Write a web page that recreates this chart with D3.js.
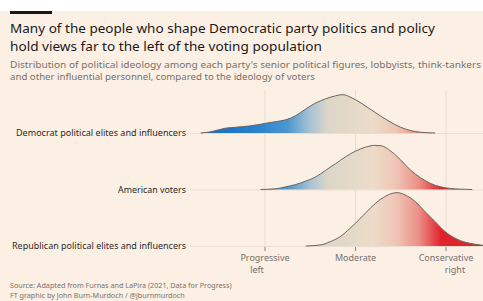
<!DOCTYPE html>
<html>
<head>
<meta charset="utf-8">
<script src="https://cdn.jsdelivr.net/npm/d3@7"></script>
<style>
  body { margin: 0; background: #fff; }
  svg { display: block; font-family: "Noto Sans", "Open Sans", sans-serif; }
</style>
</head>
<body>
<script>
// rows, top to bottom
var rows = ['Democrat political elites and influencers', 'American voters', 'Republican political elites and influencers'];

// ideology score (-1 progressive, 0 moderate, 1 conservative) and density
var demIdeology = [-1.71, -1.6, -1.44, -1.33, -1.16, -1.0, -0.88, -0.77, -0.66, -0.55, -0.44, -0.33, -0.22, -0.14, -0.06, 0.06, 0.17, 0.28, 0.39, 0.5, 0.61, 0.72, 0.88];
var demDensity = [0, 0.02, 0.08, 0.095, 0.12, 0.16, 0.19, 0.22, 0.29, 0.4, 0.5, 0.57, 0.62, 0.64, 0.6, 0.5, 0.39, 0.28, 0.18, 0.095, 0.04, 0.012, 0];

var voterIdeology = [-1.05, -0.88, -0.77, -0.66, -0.55, -0.44, -0.33, -0.22, -0.11, 0, 0.11, 0.21, 0.28, 0.39, 0.5, 0.61, 0.72, 0.83, 0.94, 1.05, 1.16, 1.29];
var voterDensity = [0, 0.012, 0.045, 0.083, 0.14, 0.21, 0.32, 0.43, 0.545, 0.64, 0.705, 0.735, 0.73, 0.64, 0.49, 0.32, 0.195, 0.1, 0.045, 0.017, 0.006, 0];

var repIdeology = [-0.55, -0.39, -0.28, -0.17, -0.06, 0.06, 0.17, 0.28, 0.39, 0.46, 0.55, 0.66, 0.77, 0.88, 0.99, 1.1, 1.22, 1.33, 1.41];
var repDensity = [0, 0.017, 0.072, 0.155, 0.295, 0.47, 0.64, 0.78, 0.87, 0.89, 0.85, 0.74, 0.57, 0.405, 0.24, 0.13, 0.06, 0.028, 0.01];

var tickValues = [-1, 0, 1];
var tickLabels = [['Progressive', 'left'], ['Moderate'], ['Conservative', 'right']];

var series = [
  { name: rows[0], x: demIdeology, y: demDensity, w: 170 },
  { name: rows[1], x: voterIdeology, y: voterDensity, w: 68 },
  { name: rows[2], x: repIdeology, y: repDensity, w: 174 }
];

var width = 483, height = 301;
var bg = '#fcf0e5';

var svg = d3.select('body').append('svg')
  .attr('width', width)
  .attr('height', height);

// white strip above, FT pink panel below
svg.append('rect').attr('width', width).attr('height', height).attr('fill', '#fff');
svg.append('rect').attr('y', 11).attr('width', width).attr('height', height - 11).attr('fill', bg);
svg.append('rect').attr('x', 10).attr('y', 11).attr('width', 42).attr('height', 3).attr('fill', '#1a1817');

// scales
var xScale = d3.scaleLinear().domain([-1, 1]).range([265, 446]);
var yRow = d3.scalePoint().domain(rows).range([133, 246]);
var yScale = d3.scaleLinear().domain([0, 1]).range([0, 60]);

// stretch a text to the width it takes in the original
function fitText(sel, w) {
  var len = sel.node().getComputedTextLength();
  if (len > 0) sel.attr('textLength', w).attr('lengthAdjust', 'spacingAndGlyphs');
}

var t1 = svg.append('text').attr('x', 10).attr('y', 33).attr('font-size', 13.2).attr('fill', '#1a1817')
  .text('Many of the people who shape Democratic party politics and policy');
fitText(t1, 425);
var t2 = svg.append('text').attr('x', 10).attr('y', 51).attr('font-size', 13.2).attr('fill', '#1a1817')
  .text('hold views far to the left of the voting population');
fitText(t2, 312);
var s1 = svg.append('text').attr('x', 10).attr('y', 67.5).attr('font-size', 9.2).attr('fill', '#77706b')
  .text("Distribution of political ideology among each party's senior political figures, lobbyists, think-tankers");
fitText(s1, 471);
var s2 = svg.append('text').attr('x', 10).attr('y', 80).attr('font-size', 9.2).attr('fill', '#77706b')
  .text('and other influential personnel, compared to the ideology of voters');
fitText(s2, 305);

// grid
var grid = svg.append('g');
grid.selectAll('line.v').data(tickValues).enter().append('line')
  .attr('class', 'v')
  .attr('x1', function(d) { return xScale(d); })
  .attr('x2', function(d) { return xScale(d); })
  .attr('y1', 90).attr('y2', 247)
  .attr('stroke', '#e9ddd2').attr('stroke-width', 1);
grid.selectAll('line.h').data(rows).enter().append('line')
  .attr('class', 'h')
  .attr('x1', 190).attr('x2', width)
  .attr('y1', function(d) { return yRow(d) + 0.5; })
  .attr('y2', function(d) { return yRow(d) + 0.5; })
  .attr('stroke', '#e9ddd2').attr('stroke-width', 1);

// colour gradient running left to right along the ideology axis
var grad = svg.append('defs').append('linearGradient')
  .attr('id', 'ideo')
  .attr('gradientUnits', 'userSpaceOnUse')
  .attr('x1', xScale(-1.7)).attr('x2', xScale(1.4))
  .attr('y1', 0).attr('y2', 0);
var stops = [
  [-1.7, '#1c6bbd'], [-1.1, '#2581cf'], [-0.75, '#4d97d0'], [-0.5, '#a9c3d3'],
  [-0.3, '#ddd6c8'], [0.2, '#ecdcc8'], [0.45, '#efc4b5'], [0.7, '#ec8f88'],
  [0.95, '#e0232a'], [1.4, '#d42a2f']
];
grad.selectAll('stop').data(stops).enter().append('stop')
  .attr('offset', function(d) { return (d[0] + 1.7) / 3.1; })
  .attr('stop-color', function(d) { return d[1]; });

// ridges
series.forEach(function(s) {
  var base = yRow(s.name);
  var pts = s.x.map(function(v, i) { return [v, s.y[i]]; });
  var area = d3.area()
    .curve(d3.curveMonotoneX)
    .x(function(d) { return xScale(d[0]); })
    .y0(base)
    .y1(function(d) { return base - yScale(d[1]); });
  var line = d3.line()
    .curve(d3.curveMonotoneX)
    .x(function(d) { return xScale(d[0]); })
    .y(function(d) { return base - yScale(d[1]); });
  svg.append('path').datum(pts).attr('d', area).attr('fill', 'url(#ideo)');
  svg.append('path').datum(pts).attr('d', line)
    .attr('fill', 'none').attr('stroke', '#6b6561').attr('stroke-width', 1);

  var lab = svg.append('text')
    .attr('x', 186).attr('y', base + 3)
    .attr('text-anchor', 'end')
    .attr('font-size', 8.8).attr('fill', '#2b2826')
    .text(s.name);
  fitText(lab, s.w);
});

// x axis: tick marks and labels
var axis = svg.append('g');
axis.selectAll('line').data(tickValues).enter().append('line')
  .attr('x1', function(d) { return xScale(d); })
  .attr('x2', function(d) { return xScale(d); })
  .attr('y1', 247).attr('y2', 251)
  .attr('stroke', '#8a837e');
var labelOffsets = [-8, 0, 9];
tickValues.forEach(function(v, i) {
  var lab = tickLabels[i];
  lab.forEach(function(str, j) {
    axis.append('text')
      .attr('x', xScale(v) + (j === 1 ? labelOffsets[i] : 0))
      .attr('y', 260.5 + j * 12)
      .attr('text-anchor', 'middle')
      .attr('font-size', 9).attr('fill', '#77706b')
      .text(str);
  });
});

// source
svg.append('text').attr('x', 10).attr('y', 288).attr('font-size', 7.2).attr('fill', '#77706b')
  .text('Source: Adapted from Furnas and LaPira (2021, Data for Progress)');
svg.append('text').attr('x', 10).attr('y', 298).attr('font-size', 7.2).attr('fill', '#77706b')
  .text('FT graphic by John Burn-Murdoch / @jburnmurdoch');
</script>
</body>
</html>
